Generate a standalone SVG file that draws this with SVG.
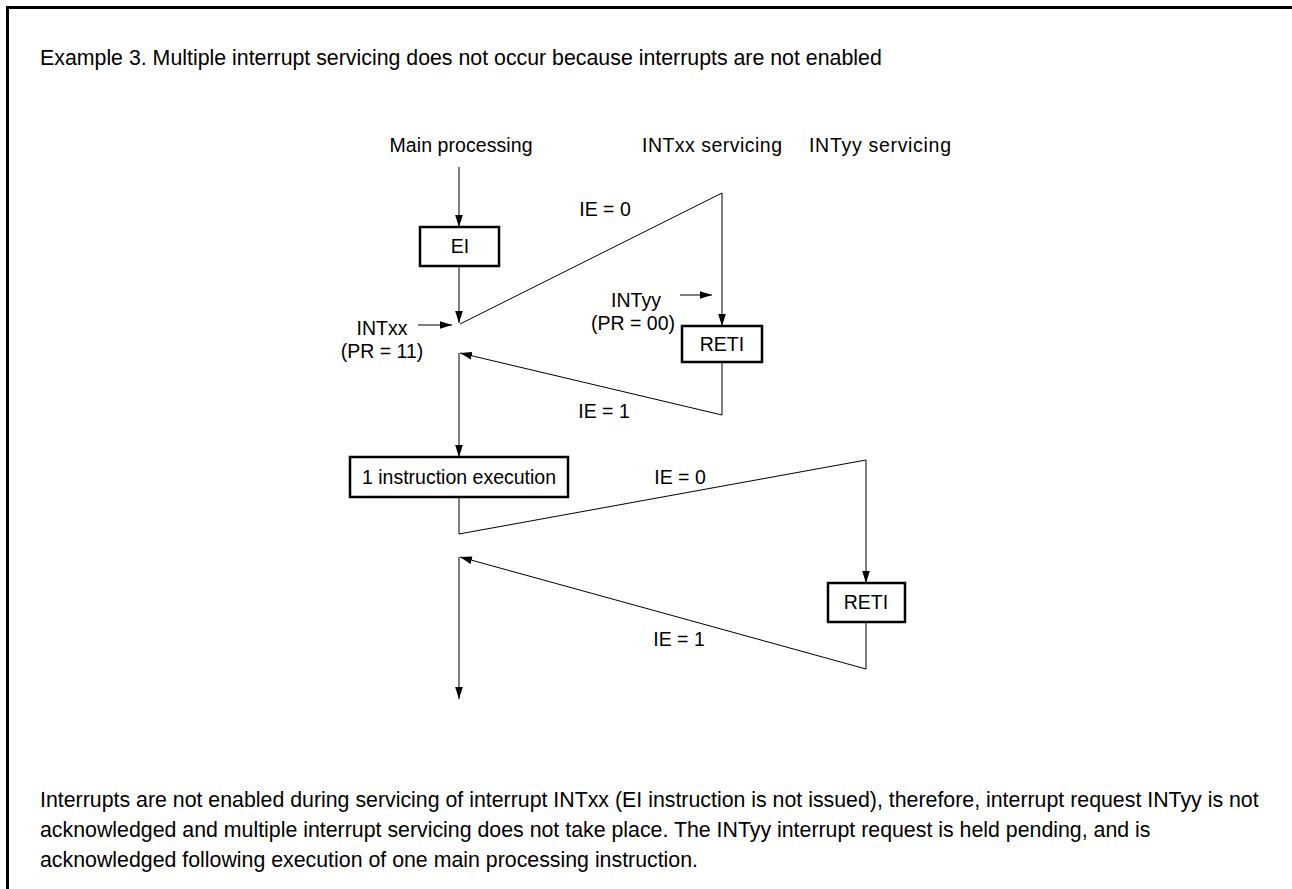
<svg xmlns="http://www.w3.org/2000/svg" width="1292" height="889" viewBox="0 0 1292 889">
<style>
text{font-family:"Liberation Sans",Arial,sans-serif;font-size:19.5px;fill:#000}
.c{text-anchor:middle}
.big{font-size:21.33px}
.box{fill:#fff;stroke:#000;stroke-width:2.5}
.ln{fill:none;stroke:#000;stroke-width:1}
</style>
<defs>
<marker id="ah" viewBox="0 0 10 10" refX="10" refY="5" markerWidth="12" markerHeight="12" markerUnits="userSpaceOnUse" orient="auto">
<path d="M0,1.8 L10,5 L0,8.2 z" fill="#000"/>
</marker>
</defs>
<rect width="1292" height="889" fill="#fff"/>
<path d="M7.5,889 V7.5 H1292" fill="none" stroke="#000" stroke-width="3"/>
<text class="big" x="40" y="65">Example 3. Multiple interrupt servicing does not occur because interrupts are not enabled</text>
<text class="c" x="461" y="152" textLength="143" lengthAdjust="spacing">Main processing</text>
<text class="c" x="712" y="152" textLength="140" lengthAdjust="spacing">INTxx servicing</text>
<text class="c" x="880" y="152" textLength="142" lengthAdjust="spacing">INTyy servicing</text>
<g id="connectors">
<line class="ln" x1="459" y1="167" x2="459" y2="227" marker-end="url(#ah)"/>
<line class="ln" x1="459" y1="266" x2="459" y2="323" marker-end="url(#ah)"/>
<polyline class="ln" points="460,324 722,193 722,326" marker-end="url(#ah)"/>
<polyline class="ln" points="722,362 722,415 460,353" marker-end="url(#ah)"/>
<line class="ln" x1="459" y1="353" x2="459" y2="457" marker-end="url(#ah)"/>
<polyline class="ln" points="459,497 459,534 866,460 866,583" marker-end="url(#ah)"/>
<polyline class="ln" points="866,622 866,669 460,557" marker-end="url(#ah)"/>
<line class="ln" x1="459" y1="557" x2="459" y2="699" marker-end="url(#ah)"/>
<line class="ln" x1="418" y1="325" x2="452" y2="325" marker-end="url(#ah)"/>
<line class="ln" x1="680" y1="295" x2="712" y2="295" marker-end="url(#ah)"/>
</g>
<text class="c" x="605" y="216">IE = 0</text>
<text class="c" x="604" y="418">IE = 1</text>
<text class="c" x="680" y="484">IE = 0</text>
<text class="c" x="679" y="646">IE = 1</text>
<text class="c" x="382" y="335">INTxx</text>
<text class="c" x="382" y="358">(PR = 11)</text>
<text class="c" x="636" y="307">INTyy</text>
<text class="c" x="633" y="330">(PR = 00)</text>
<g id="ei"><rect class="box" x="420" y="227" width="79" height="39"/><text class="c" x="460" y="253">EI</text></g>
<g id="reti1"><rect class="box" x="682" y="326" width="80" height="36"/><text class="c" x="722" y="351">RETI</text></g>
<g id="exec"><rect class="box" x="350" y="457" width="218" height="40"/><text class="c" x="459" y="484">1 instruction execution</text></g>
<g id="reti2"><rect class="box" x="828" y="583" width="77" height="39"/><text class="c" x="866" y="609">RETI</text></g>
<text class="big" x="40" y="807">Interrupts are not enabled during servicing of interrupt INTxx (EI instruction is not issued), therefore, interrupt request INTyy is not</text>
<text class="big" x="40" y="837">acknowledged and multiple interrupt servicing does not take place. The INTyy interrupt request is held pending, and is</text>
<text class="big" x="40" y="867">acknowledged following execution of one main processing instruction.</text>
</svg>
